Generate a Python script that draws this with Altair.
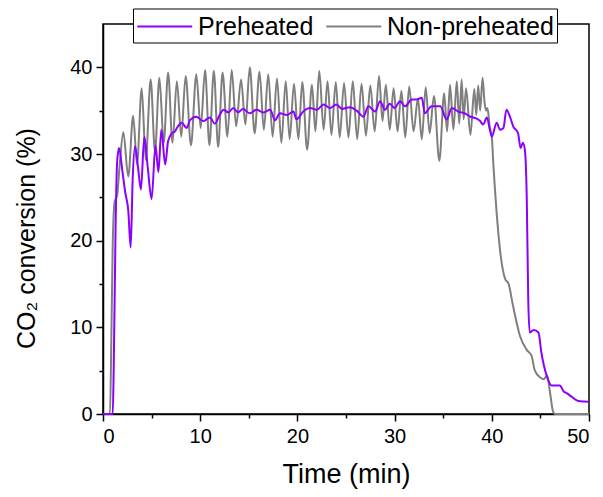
import altair as alt
import pandas as pd

series_names = ["Preheated", "Non-preheated"]
series_colors = ["#8B00FF", "#7F7F7F"]

# Preheated (purple)
time_pre = [0, 1.0, 1.1, 1.3, 1.45, 1.65, 2.0, 2.3, 2.6, 2.85, 3.05, 3.3, 3.6, 3.9, 4.25, 4.6,
            5.0, 5.4, 5.7, 6.0, 6.4, 6.7, 7.1, 7.4, 7.6, 8.1, 8.6, 8.95, 9.6, 10.3, 11.0, 11.5,
            12.0, 12.4, 12.9, 13.4, 13.9, 14.4, 15.1, 15.8, 16.5, 17.2, 17.7, 18.2, 18.9, 19.6,
            19.9, 20.6, 21.3, 22.0, 22.7, 23.35, 24.0, 24.6, 25.4, 26.1, 26.8, 27.3, 28.0, 28.5,
            29.0, 29.5, 30.0, 30.55, 31.1, 31.75, 32.3, 32.8, 33.1, 33.8, 34.7, 35.35, 35.9,
            36.55, 37.2, 37.8, 38.4, 38.8, 39.1, 39.5, 39.8, 40.0, 40.5, 40.85, 41.2, 41.5, 41.9,
            42.2, 42.7, 42.96, 43.2, 43.4, 43.6, 43.75, 43.9, 44.3, 44.8, 45.1, 45.65, 46.15,
            47.0, 47.4, 47.7, 48.2, 48.9, 50.0]
conv_pre = [0, 0, 5, 22, 29, 30.7, 28, 25.5, 23.5, 19.2, 27, 30.9, 28.5, 25.9, 32.0, 28.5,
            24.8, 31.0, 27.9, 32.8, 28.8, 31.5, 32.4, 32.6, 33.0, 33.6, 33.0, 33.9, 34.3, 33.8,
            34.2, 33.5, 34.5, 35.1, 34.8, 35.3, 34.8, 35.2, 34.7, 35.1, 34.8, 35.1, 33.9, 34.7,
            34.5, 34.9, 34.0, 34.9, 35.3, 35.1, 35.7, 35.3, 35.7, 35.2, 35.4, 35.0, 34.3, 35.5,
            34.9, 36.1, 35.1, 35.8, 35.3, 36.1, 35.5, 36.3, 36.3, 36.5, 34.7, 35.5, 35.5, 34.0,
            35.3, 34.9, 34.7, 34.3, 34.1, 33.8, 33.4, 34.2, 32.8, 32.0, 33.6, 32.8, 33.0, 35.1,
            34.2, 33.2, 32.4, 30.7, 31.3, 30.5, 24.7, 13.2, 9.4, 9.7, 9.4, 7.1, 4.4, 3.3, 3.3,
            2.6, 2.4, 2.0, 1.5, 1.4]

# Non-preheated (gray)
time_non = [0, 0.72, 0.85, 1.0, 1.2, 1.45, 1.7, 2.09, 2.6, 3.1, 3.5, 3.98, 4.4, 4.9, 5.35, 5.8,
            6.25, 6.7, 7.15, 7.6, 8.05, 8.5, 9.05, 9.6, 10.05, 10.5, 10.95, 11.4, 11.85, 12.3,
            12.8, 13.24, 13.7, 14.2, 14.65, 15.1, 15.6, 16.1, 16.55, 17.0, 17.45, 17.9, 18.35,
            18.8, 19.2, 19.65, 20.1, 20.5, 21.0, 21.5, 21.85, 22.25, 22.7, 23.1, 23.5, 23.95,
            24.35, 24.8, 25.25, 25.7, 26.15, 26.6, 27.05, 27.5, 27.95, 28.4, 28.75, 29.1, 29.5,
            29.9, 30.3, 30.7, 31.1, 31.5, 31.95, 32.4, 32.8, 33.2, 33.6, 34.05, 34.6, 35.1, 35.4,
            35.7, 36.05, 36.4, 36.65, 36.9, 37.1, 37.35, 37.8, 38.2, 38.4, 38.6, 38.8, 39.05,
            39.25, 39.4, 39.55, 39.8, 40.0, 40.15, 40.5, 40.8, 41.4, 41.7, 42.2, 42.9, 43.6,
            44.1, 44.4, 45.0, 45.3, 45.7, 46.0, 46.3, 46.5, 50.0]
conv_non = [0, 0, 8, 19.5, 24.5, 25.2, 28.5, 32.5, 27.4, 34.4, 28.8, 37.6, 29.3, 38.6, 30.3, 38.8,
            31.3, 39.4, 31.3, 38.4, 32.0, 39.0, 31.0, 39.2, 33.0, 39.7, 31.0, 39.6, 30.8, 39.4,
            32.0, 39.7, 33.2, 38.6, 33.4, 40.0, 32.4, 39.5, 32.8, 39.2, 32.0, 38.7, 31.3,
            38.4, 31.7, 38.1, 31.7, 38.3, 30.5, 38.0, 32.6, 39.6, 32.8, 38.4, 32.2, 38.3,
            31.9, 38.2, 31.9, 38.4, 31.7, 38.1, 32.1, 37.9, 32.6, 39.0, 33.8, 38.0, 32.8,
            37.6, 32.6, 37.3, 31.9, 37.8, 32.6, 36.4, 31.7, 37.7, 32.4, 36.7, 29.2, 37.0, 32.6,
            38.0, 32.8, 38.4, 33.5, 38.6, 34.0, 37.6, 32.2, 37.5, 34.5, 37.9, 35.0, 38.8,
            36.0, 35.0, 35.3, 33.0, 32.0, 29.0, 23.2, 19.4, 15.5, 15.1, 12.4, 9.0, 7.4,
            6.7, 5.1, 4.2, 4.0, 4.4, 2.4, 0.3, 0, 0]

x_ticks = list(range(0, 51, 5))
y_ticks = list(range(0, 41, 5))

df_pre = pd.DataFrame({"t": time_pre, "c": conv_pre, "s": series_names[0]})
df_non = pd.DataFrame({"t": time_non, "c": conv_non, "s": series_names[1]})

FONT = "Liberation Sans"
tick_size = {"condition": {"test": "datum.value % 10 !== 0", "value": 4}, "value": 7}

x_enc = alt.X(
    "t:Q",
    scale=alt.Scale(domain=[0, 50], nice=False, zero=False),
    axis=alt.Axis(
        values=x_ticks,
        labelExpr="datum.value % 10 === 0 ? datum.label : ''",
        title="Time (min)",
        titleFontSize=27,
        titleFont=FONT,
        titleFontWeight="normal",
        titleBaseline="alphabetic",
        titleY=68,
        tickSize=tick_size,
        labelPadding=5,
    ),
)
y_enc = alt.Y(
    "c:Q",
    scale=alt.Scale(domain=[0, 45], nice=False),
    axis=alt.Axis(
        values=y_ticks,
        labelExpr="datum.value % 10 === 0 ? datum.label : ''",
        title="CO₂ conversion (%)",
        titleFontSize=25,
        titleFont=FONT,
        titleFontWeight="normal",
        titleBaseline="alphabetic",
        titleAngle=270,
        titleAlign="center",
        titleX=-69,
        titleY=214,
        tickSize=tick_size,
        labelPadding=4,
    ),
)
color_enc = alt.Color(
    "s:N",
    scale=alt.Scale(domain=series_names, range=series_colors),
    legend=alt.Legend(
        title=None,
        orient="none",
        legendX=30,
        legendY=-15.5,
        direction="horizontal",
        symbolType="M-1,0H3",
        symbolSize=756,
        symbolStrokeWidth=2,
        labelFont=FONT,
        labelFontSize=25,
        labelColor="black",
        labelOffset=32,
        labelLimit=400,
        columnPadding=8,
        padding=3,
        fillColor="white",
        strokeColor="black",
    ),
)

non = alt.Chart(df_non).mark_line(strokeWidth=2, interpolate="monotone").encode(
    x=x_enc, y=y_enc, color=color_enc
)
pre = alt.Chart(df_pre).mark_line(strokeWidth=2, interpolate="monotone").encode(
    x=x_enc, y=y_enc, color=color_enc
)

chart = (
    alt.layer(non, pre)
    .properties(
        width=486,
        height=390,
        autosize=alt.AutoSizeParams(type="none"),
        padding={"left": 95, "top": 16, "right": 6, "bottom": 75},
    )
    .configure_view(stroke="black", strokeWidth=1.5)
    .configure_axis(
        grid=False,
        domainColor="black",
        domainWidth=1.5,
        tickColor="black",
        tickWidth=1.5,
        labelFont=FONT,
        labelFontSize=20,
        labelColor="black",
        titleColor="black",
    )
)

chart.save("out.html", embed_options={"renderer": "svg", "actions": False})
